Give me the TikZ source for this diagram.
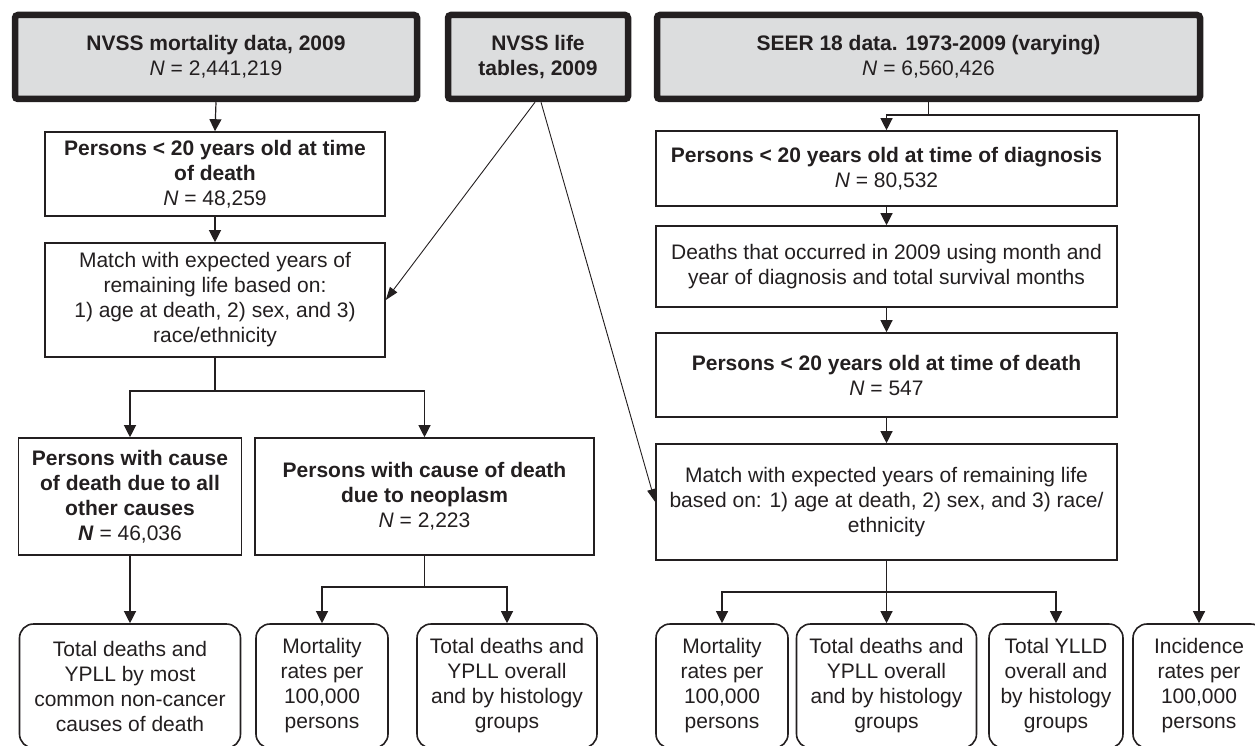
\documentclass[tikz,border=0pt]{standalone}
\usepackage{fontspec}
\setmainfont{Liberation Sans}
\usetikzlibrary{arrows.meta}
\definecolor{ink}{HTML}{231F20}
\definecolor{fillgray}{HTML}{DCDDDE}
\begin{document}
\begin{tikzpicture}[x=1pt,y=-1pt,
  every node/.style={font=\fontsize{21}{25}\selectfont, text=ink, align=center, inner sep=0pt},
  topbox/.style={draw=ink, fill=fillgray, line width=6.5pt, rounded corners=3pt},
  box/.style={draw=ink, line width=1.6pt, fill=white},
  rbox/.style={draw=ink, line width=1.6pt, fill=white, rounded corners=14pt},
  conn/.style={draw=ink, line width=1.2pt},
  arr/.style={conn, -{Triangle[length=12pt,width=12pt]}},
  thinarr/.style={draw=ink, line width=0.9pt, -{Triangle[length=13pt,width=9pt]}},
]
\useasboundingbox (0,0) rectangle (1255,746);
\clip (0,0) rectangle (1255,746);

% top sources
\node[topbox, minimum width=402pt, minimum height=84pt] (mort) at (216,57)
  {\textbf{NVSS mortality data, 2009}\\\textit{N} = 2,441,219};
\node[topbox, minimum width=180pt, minimum height=84pt] (life) at (538,57)
  {\textbf{NVSS life}\\\textbf{tables, 2009}};
\node[topbox, minimum width=543pt, minimum height=84pt] (seer) at (928.5,57)
  {\textbf{SEER 18 data. 1973-2009 (varying)}\\\textit{N} = 6,560,426};

% left column
\node[box, minimum width=340pt, minimum height=84pt] (p1) at (215,174)
  {\textbf{Persons < 20 years old at time}\\\textbf{of death}\\\textit{N} = 48,259};
\node[box, minimum width=340pt, minimum height=114pt] (m1) at (215,300)
  {Match with expected years of\\remaining life based on:\\1) age at death, 2) sex, and 3)\\race/ethnicity};
\node[box, minimum width=223pt, minimum height=117pt] (o1) at (130,496.5)
  {\textbf{Persons with cause}\\\textbf{of death due to all}\\\textbf{other causes}\\\textbf{\textit{N}} = 46,036};
\node[box, minimum width=339pt, minimum height=117pt] (n1) at (424.5,496.5)
  {\textbf{Persons with cause of death}\\\textbf{due to neoplasm}\\\textit{N} = 2,223};

\node[rbox, minimum width=221pt, minimum height=124pt] (b1) at (130,686)
  {Total deaths and\\YPLL by most\\common non-cancer\\causes of death};
\node[rbox, minimum width=132pt, minimum height=124pt] (b2) at (322,686)
  {Mortality\\rates per\\100,000\\persons};
\node[rbox, minimum width=180pt, minimum height=124pt] (b3) at (507,686)
  {Total deaths and\\YPLL overall\\and by histology\\groups};

% right column
\node[box, minimum width=461pt, minimum height=75pt] (r1) at (886.5,168.5)
  {\textbf{Persons < 20 years old at time of diagnosis}\\\textit{N} = 80,532};
\node[box, minimum width=461pt, minimum height=81pt] (r2) at (886.5,266.5)
  {Deaths that occurred in 2009 using month and\\year of diagnosis and total survival months};
\node[box, minimum width=461pt, minimum height=84pt] (r3) at (886.5,375)
  {\textbf{Persons < 20 years old at time of death}\\\textit{N} = 547};
\node[box, minimum width=461pt, minimum height=116pt] (r4) at (886.5,502)
  {Match with expected years of remaining life\\based on: 1) age at death, 2) sex, and 3) race/\\ethnicity};

\node[rbox, minimum width=132pt, minimum height=124pt] (b4) at (722,686)
  {Mortality\\rates per\\100,000\\persons};
\node[rbox, minimum width=180pt, minimum height=124pt] (b5) at (886.5,686)
  {Total deaths and\\YPLL overall\\and by histology\\groups};
\node[rbox, minimum width=134pt, minimum height=124pt] (b6) at (1056,686)
  {Total YLLD\\overall and\\by histology\\groups};
\node[rbox, minimum width=132pt, minimum height=124pt] (b7) at (1199,686)
  {Incidence\\rates per\\100,000\\persons};

% junction coordinates
\coordinate (j1) at (215,391);
\coordinate (j2) at (424.5,587);
\coordinate (js) at (928.5,115);
\coordinate (jr) at (886.5,592);

% connectors left
\draw[arr] (mort.south) -- (p1.north);
\draw[arr] (p1.south) -- (m1.north);
\draw[conn] (m1.south) -- (j1);
\draw[arr] (j1) -| (o1.north);
\draw[arr] (j1) -| (n1.north);
\draw[arr] (o1.south) -- (b1.north);
\draw[conn] (n1.south) -- (j2);
\draw[arr] (j2) -| (b2.north);
\draw[arr] (j2) -| (b3.north);

% life table lines
\draw[thinarr] ([xshift=-3pt]life.south) -- (m1.east);
\draw[thinarr] ([xshift=3pt]life.south) -- (r4.west);

% connectors right
\draw[conn] (seer.south) -- (js);
\draw[arr] (js) -| (r1.north);
\draw[arr] (js) -| (b7.north);
\draw[arr] (r1.south) -- (r2.north);
\draw[arr] (r2.south) -- (r3.north);
\draw[arr] (r3.south) -- (r4.north);
\draw[conn] (r4.south) -- (jr);
\draw[arr] (jr) -| (b4.north);
\draw[arr] (jr) -- (b5.north);
\draw[arr] (jr) -| (b6.north);
\end{tikzpicture}
\end{document}
